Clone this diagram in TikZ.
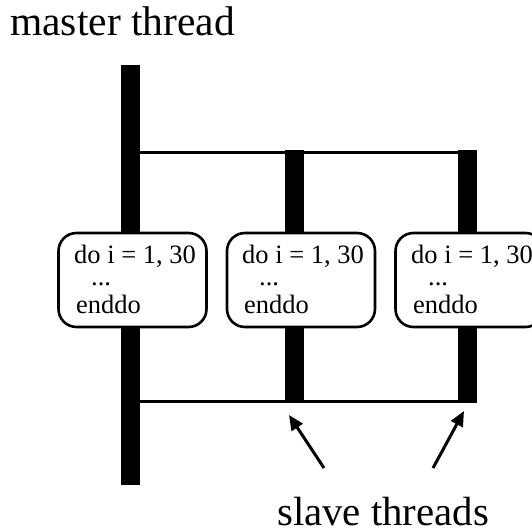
\documentclass[tikz,border=0pt]{standalone}
\usepackage{fontspec}
\setmainfont{Liberation Serif}
\usetikzlibrary{arrows.meta}
\begin{document}
\begin{tikzpicture}[x=1pt,y=-1pt,
  bar/.style={fill=black,draw=none,inner sep=0pt,minimum width=19pt},
  loopbox/.style={draw=black,fill=white,line width=2.6pt,rounded corners=18pt,inner sep=0pt,minimum width=148pt,minimum height=94pt},
  looptext/.style={anchor=base west,inner sep=0pt,font=\fontsize{26.5}{30}\selectfont},
  bigtext/.style={anchor=base west,inner sep=0pt,font=\fontsize{41.5}{48}\selectfont},
  joinline/.style={line width=3pt},
  pointer/.style={line width=3pt,-{Triangle[length=15pt,width=13pt]}}]
\useasboundingbox (0,0) rectangle (532,532);
% bars
\node[bar,minimum height=420pt] (master) at (130.5,275) {};
\node[bar,minimum height=253pt] (slaveA) at (294.5,276.5) {};
\node[bar,minimum height=253pt] (slaveB) at (467,276.5) {};
% fork / join lines
\coordinate (forkL) at (master.east |- 0,152);
\coordinate (joinL) at (master.east |- 0,401.5);
\draw[joinline] (forkL) -- (forkL -| slaveB.east);
\draw[joinline] (joinL) -- (joinL -| slaveB.east);
% loop boxes
\node[loopbox] (loopA) at (132.5,280) {};
\node[loopbox] (loopB) at (301,280) {};
\node[loopbox] (loopC) at (469.5,280) {};
\foreach \n/\dx in {A/0,B/168,C/337}{
  \node[looptext] (do\n) at (74+\dx,263) {do i = 1, 30};
  \node[looptext] (dots\n) at (91+\dx,285) {...};
  \node[looptext] (end\n) at (76+\dx,313) {enddo};
}
% labels
\node[bigtext] (mastertext) at (10,36) {master thread};
\node[bigtext,font=\fontsize{40.8}{48}\selectfont] (slavetext) at (277,525) {slave threads};
\coordinate (tailA) at (324,468);
\coordinate (tailB) at (433,468);
\draw[pointer] (tailA) -- (289,415);
\draw[pointer] (tailB) -- (464,411);
\end{tikzpicture}
\end{document}
